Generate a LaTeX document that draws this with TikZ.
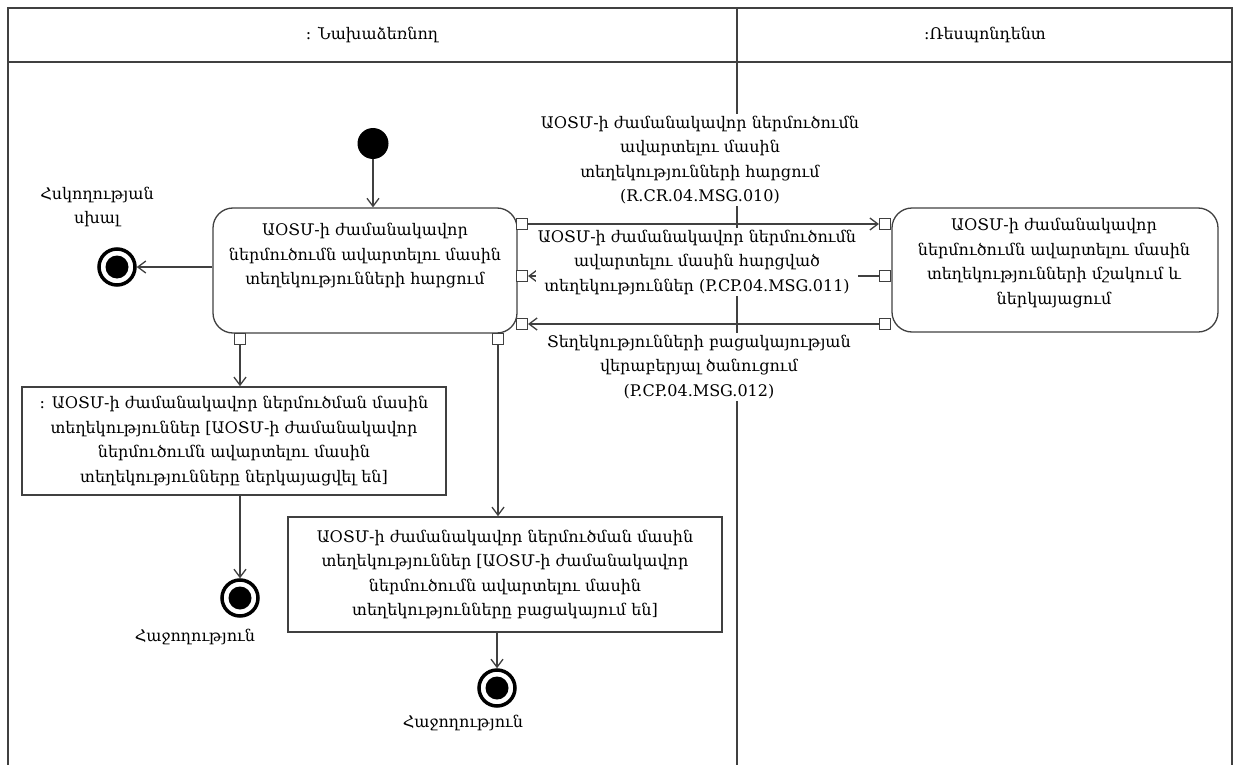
\documentclass[tikz,border=0pt]{standalone}
\usepackage{fontspec}
\setmainfont{DejaVu Serif}
\usepackage{tikz}
\usetikzlibrary{calc, arrows.meta}
\colorlet{linegray}{black!75}
\tikzstyle{actbox} = [rectangle, rounded corners=20pt, draw=linegray, line width=1.3pt]
\tikzstyle{databox} = [rectangle, draw=linegray, line width=1.6pt, align=center, inner sep=0pt]
\tikzstyle{boxtext} = [align=center, inner sep=1pt]
\tikzstyle{msgtext} = [align=center, fill=white, inner sep=2pt]
\tikzstyle{portbox} = [rectangle, draw=linegray, line width=1.1pt, fill=white, minimum size=11pt, inner sep=0pt]
\tikzstyle{initstate} = [circle, fill=black, minimum size=31pt, inner sep=0pt]
\tikzstyle{finalstate} = [circle, draw=black, line width=3.5pt, fill=white, minimum size=36pt, inner sep=0pt,
    path picture={\fill[black] (path picture bounding box.center) circle (11.5pt);}]
\tikzstyle{arrow} = [draw=linegray, line width=1.3pt, -{Straight Barb[length=8pt,width=12pt]}]

\begin{document}
\begin{tikzpicture}[x=1pt, y=-1pt, font=\fontsize{16}{24.5}\selectfont]
    \useasboundingbox (0,0) rectangle (1239,765);
    % swimlane frame
    \draw [linegray, line width=1.5pt] (8,765) -- (8,8) -- (1232,8) -- (1232,765);
    \draw [linegray, line width=2.2pt] (8,62) -- (1232,62);
    \draw [linegray, line width=1.3pt] (737,8) -- (737,765);

    % header nodes
    \node (Initiator) at (372,35) {: Նախաձեռնող};
    \node (Respondent) at (985,35) {:Ռեսպոնդենտ};

    % initiator nodes
    \node (Start) [initstate] at (373,143.5) {};
    \node (Request) [actbox, minimum width=304pt, minimum height=125pt] at (365,270.5) {};
    \node (RequestText) [boxtext] at (365,256) {ԱՕՏՄ-ի ժամանակավոր\\ներմուծումն ավարտելու մասին\\տեղեկությունների հարցում};
    \node (ErrEnd) [finalstate] at (117,267) {};
    \node (ErrLabel) [boxtext] at (97,207) {Հսկողության\\սխալ};
    \node (Data1) [databox, minimum width=424pt, minimum height=108pt] at (234,441) {: ԱՕՏՄ-ի ժամանակավոր ներմուծման մասին\\տեղեկություններ [ԱՕՏՄ-ի ժամանակավոր\\ներմուծումն ավարտելու մասին\\տեղեկությունները ներկայացվել են]};
    \node (Data2) [databox, minimum width=434pt, minimum height=115pt] at (505,574.5) {ԱՕՏՄ-ի ժամանակավոր ներմուծման մասին\\տեղեկություններ [ԱՕՏՄ-ի ժամանակավոր\\ներմուծումն ավարտելու մասին\\տեղեկությունները բացակայում են]};
    \node (DoneA) [finalstate] at (240,598) {};
    \node (DoneALabel) [boxtext] at (195,637) {Հաջողություն};
    \node (DoneB) [finalstate] at (497,688) {};
    \node (DoneBLabel) [boxtext] at (463,723) {Հաջողություն};

    % respondent nodes
    \node (Response) [actbox, minimum width=326pt, minimum height=124pt] at (1055,270) {};
    \node (ResponseText) [boxtext] at (1054,263) {ԱՕՏՄ-ի ժամանակավոր\\ներմուծումն ավարտելու մասին\\տեղեկությունների մշակում և\\ներկայացում};

    % pins
    \node (ReqPinA) [portbox] at (522,224) {};
    \node (ReqPinB) [portbox] at (522,276) {};
    \node (ReqPinC) [portbox] at (522,324) {};
    \node (ReqPinD) [portbox] at (240,339) {};
    \node (ReqPinE) [portbox] at (498,339) {};
    \node (RespPinA) [portbox] at (885,224) {};
    \node (RespPinB) [portbox] at (885,276) {};
    \node (RespPinC) [portbox] at (885,324) {};

    % arrows
    \draw [arrow] (Start) -- (Start |- Request.north);
    \draw [arrow] (ErrEnd -| Request.west) -- (ErrEnd);
    \draw [arrow] (ReqPinD) -- (ReqPinD |- Data1.north);
    \draw [arrow] (ReqPinE) -- (ReqPinE |- Data2.north);
    \draw [arrow] (Data1.south -| DoneA) -- (DoneA);
    \draw [arrow] (Data2.south -| DoneB) -- (DoneB);

    \draw [arrow] (ReqPinA) -- (RespPinA);
    \draw [arrow] (RespPinB) -- (ReqPinB);
    \draw [arrow] (RespPinC) -- (ReqPinC);

    % message labels
    \node (MsgAsk) [msgtext] at (700,160) {ԱՕՏՄ-ի ժամանակավոր ներմուծումն\\ավարտելու մասին\\տեղեկությունների հարցում\\(R.CR.04.MSG.010)};
    \node (MsgReply) [msgtext] at (697,262) {ԱՕՏՄ-ի ժամանակավոր ներմուծումն\\ավարտելու մասին հարցված\\տեղեկություններ (P.CP.04.MSG.011)};
    \node (MsgNone) [msgtext] at (699,367) {Տեղեկությունների բացակայության\\վերաբերյալ ծանուցում\\(P.CP.04.MSG.012)};
\end{tikzpicture}
\end{document}
